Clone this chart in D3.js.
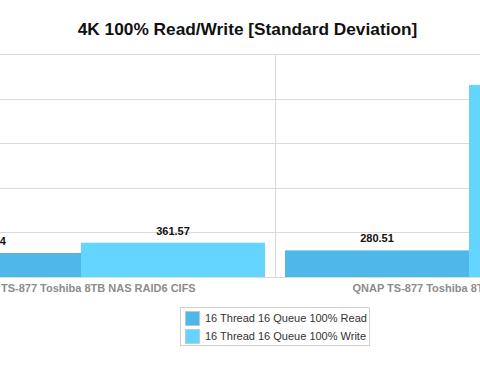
<!DOCTYPE html>
<html><head><meta charset="utf-8">
<script src="https://cdn.jsdelivr.net/npm/d3@7"></script>
<style>
html,body{margin:0;padding:0;background:#fff;}
svg{display:block;font-family:"Liberation Sans",Arial,Helvetica,sans-serif;}
</style></head>
<body><svg id="c" width="480" height="368"></svg>
<script>
const categories = ["QNAP TS-877 Toshiba 8TB NAS RAID6 CIFS", "QNAP TS-877 Toshiba 8TB NAS RAID6 iSCSI"];
const seriesNames = ["16 Thread 16 Queue 100% Read", "16 Thread 16 Queue 100% Write"];
const readValues = [252.84, 280.51];
const writeValues = [361.57, 2024.0];
const gridTicks = [0, 470, 940, 1410, 1880, 2350];
const colors = ["#50b8e8", "#63d5fe"];

const svg = d3.select("#c");
const W = 480;

svg.append("text").attr("x", 247.5).attr("y", 35).attr("text-anchor", "middle")
  .attr("font-size", 17.3).attr("font-weight", "bold").attr("fill", "#111")
  .text("4K 100% Read/Write [Standard Deviation]");

const y = d3.scaleLinear().domain([0, 2350]).range([277, 54]);
const x0 = d3.scaleBand().domain(categories).range([-113, 663]);
const x1 = d3.scaleBand().domain(seriesNames).range([10, x0.bandwidth() - 10]);

// horizontal gridlines
svg.append("g").selectAll("line").data(gridTicks).join("line")
  .attr("x1", 0).attr("x2", W)
  .attr("y1", d => Math.round(y(d)) + 0.5).attr("y2", d => Math.round(y(d)) + 0.5)
  .attr("stroke", "#dadada").attr("stroke-width", 1);

// vertical category separators
const bounds = categories.map(c => x0(c)).concat([x0.range()[1]]);
svg.append("g").selectAll("line").data(bounds).join("line")
  .attr("x1", d => Math.round(d) + 0.5).attr("x2", d => Math.round(d) + 0.5)
  .attr("y1", y(2350)).attr("y2", y(0))
  .attr("stroke", "#dadada").attr("stroke-width", 1);

const rows = categories.map((c, i) => ({cat: c, vals: [readValues[i], writeValues[i]]}));
const g = svg.append("g").selectAll("g").data(rows).join("g")
  .attr("transform", d => `translate(${x0(d.cat)},0)`);
g.selectAll("rect").data(d => d.vals.map((v, j) => ({s: seriesNames[j], v, j}))).join("rect")
  .attr("x", d => x1(d.s)).attr("width", x1.bandwidth())
  .attr("y", d => y(d.v)).attr("height", d => y(0) - y(d.v))
  .attr("fill", d => colors[d.j]);
g.selectAll("text.v").data(d => d.vals.map((v, j) => ({s: seriesNames[j], v, j}))).join("text")
  .attr("class", "v")
  .attr("x", d => x1(d.s) + x1.bandwidth() / 2).attr("y", d => y(d.v) - 8)
  .attr("text-anchor", "middle").attr("font-size", 11).attr("font-weight", "bold").attr("fill", "#111")
  .text(d => d3.format(".2f")(d.v));

// category labels
svg.append("g").selectAll("text").data(categories).join("text")
  .attr("x", d => x0(d) + x0.bandwidth() / 2).attr("y", 292)
  .attr("text-anchor", "middle").attr("font-size", 11).attr("font-weight", "bold").attr("fill", "#8c8c8c")
  .text(d => d);

// legend
const lg = svg.append("g");
lg.append("rect").attr("x", 180.5).attr("y", 307.5).attr("width", 189).attr("height", 38)
  .attr("fill", "#fff").attr("stroke", "#cfcfcf");
const li = lg.selectAll("g").data(seriesNames).join("g")
  .attr("transform", (d, i) => `translate(185,${311 + i * 18})`);
li.append("rect").attr("x", 0.5).attr("y", 0.5).attr("width", 14).attr("height", 14)
  .attr("fill", (d, i) => colors[i]).attr("stroke", "#bbb").attr("stroke-width", 0.6);
li.append("text").attr("x", 20).attr("y", 11).attr("font-size", 11).attr("fill", "#333").text(d => d);
</script></body></html>
